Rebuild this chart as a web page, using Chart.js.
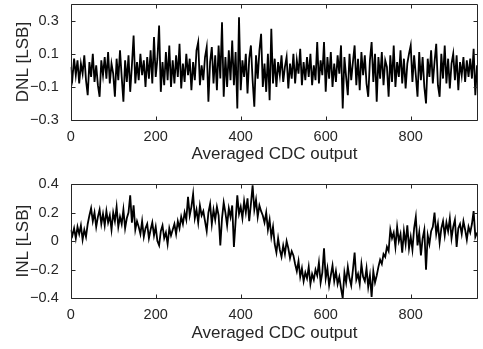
<!DOCTYPE html>
<html>
<head>
<meta charset="utf-8">
<script src="https://cdn.jsdelivr.net/npm/chart.js@4.4.1/dist/chart.umd.min.js"></script>
<style>
  html, body { margin: 0; padding: 0; background: #fff; overflow: hidden; }
  .box { position: absolute; left: 0; width: 483px; }
</style>
</head>
<body>
<div class="box" style="top:0;height:175px"><canvas id="dnlChart" width="483" height="175"></canvas></div>
<div class="box" style="top:168px;height:186px"><canvas id="inlChart" width="483" height="186"></canvas></div>
<script>
// one sample every 4 codes
const codeStep = 4;
const dnl = [
  0.02, -0.05, 0.07, -0.03, 0.06, -0.08, 0.04, -0.02, 0.09, -0.06, -0.15, 0.05, -0.04, 0.1, -0.07, 0.03, -0.09, -0.16, 0.06, -0.03,
  0.08, -0.05, 0.11, -0.08, 0.04, -0.02, -0.16, 0.07, -0.06, 0.12, -0.04, -0.19, 0.06, -0.07, 0.09, -0.13, 0.03, 0.21, -0.08, 0.05,
  -0.06, 0.1, -0.03, 0.06, -0.1, 0.08, -0.05, 0.12, -0.08, 0.2, -0.04, 0.07, 0.27, -0.13, 0.05, -0.09, 0.11, -0.06, 0.15, -0.1,
  0.06, -0.08, 0.09, -0.04, 0.16, -0.11, 0.04, -0.07, 0.1, -0.03, 0.07, -0.12, 0.05, -0.06, 0.12, 0.17, -0.09, 0.03, -0.06, 0.08,
  0.14, -0.19, 0.05, 0.14, -0.08, 0.09, -0.12, 0.15, -0.05, 0.29, -0.16, 0.08, -0.1, 0.12, -0.06, 0.18, -0.09, 0.11, -0.23, 0.32,
  -0.12, 0.06, -0.04, 0.1, -0.14, 0.07, 0.15, -0.06, -0.22, 0.09, -0.05, 0.12, 0.22, -0.1, 0.04, -0.13, 0.1, -0.18, 0.25, -0.08,
  0.07, -0.1, 0.05, -0.03, 0.09, -0.07, 0.02, 0.08, -0.11, 0.04, -0.05, 0.1, -0.08, 0.06, -0.02, 0.13, -0.09, 0.05, -0.06, 0.08,
  -0.04, 0.1, -0.09, 0.03, -0.06, 0.17, -0.08, 0.06, -0.03, 0.17, -0.13, 0.08, -0.05, 0.11, -0.1, 0.04, -0.07, 0.09, -0.02, 0.15,
  -0.23, 0.08, -0.04, -0.15, 0.1, -0.06, 0.05, 0.15, -0.09, 0.07, -0.12, 0.11, -0.03, 0.09, -0.08, -0.16, 0.06, 0.17, -0.07, 0.1,
  -0.19, 0.08, -0.05, 0.11, -0.09, 0.06, 0.02, -0.16, 0.09, -0.07, 0.15, -0.1, 0.05, -0.04, 0.12, -0.08, 0.07, -0.11, 0.04, 0.1,
  0.15, -0.07, 0.09, -0.03, -0.16, 0.11, -0.06, 0.08, -0.1, -0.2, 0.07, -0.04, 0.12, -0.08, 0.05, 0.16, -0.09, -0.16, 0.1, -0.05,
  0.15, -0.08, 0.07, -0.11, 0.04, 0.1, -0.06, 0.09, -0.12, 0.05, -0.03, 0.08, -0.07, 0.06, -0.04, 0.07, -0.05, 0.13, -0.15, 0.03
];
const inl = [
  0.08, 0.04, 0.09, 0.02, 0.1, 0.05, 0.11, 0.01, 0.08, 0.03, 0.12, 0.18, 0.23, 0.14, 0.2, 0.1, 0.17, 0.22, 0.12, 0.19,
  0.11, 0.21, 0.13, 0.18, 0.08, 0.2, 0.14, 0.24, 0.1, 0.17, 0.12, 0.22, 0.09, 0.16, 0.2, 0.32, 0.13, 0.25, 0.08, 0.14,
  0.1, 0.05, 0.14, 0.03, 0.09, 0.12, 0.02, 0.08, 0.13, 0.04, 0.1, 0.0, -0.03, 0.07, 0.11, 0.02, 0.06, -0.02, 0.09, 0.04,
  0.08, 0.12, 0.05, 0.14, 0.09, 0.17, 0.12, 0.2, 0.15, 0.31, 0.18, 0.24, 0.33, 0.16, 0.22, 0.13, 0.25, 0.18, 0.21, 0.14,
  0.07, 0.2, 0.26, 0.12, 0.22, 0.15, 0.24, 0.18, -0.03, 0.16, 0.27, 0.2, 0.11, 0.23, 0.17, 0.25, -0.04, 0.14, 0.32, 0.19,
  0.24, 0.16, 0.28, 0.2, 0.3, 0.14, 0.26, 0.39, 0.22, 0.29, 0.17, 0.25, 0.21, 0.18, 0.13, 0.2, 0.08, 0.15, 0.03, 0.1,
  -0.02, -0.08, 0.02, -0.06, -0.11, -0.03, -0.09, 0.0, -0.05, -0.12, -0.07, -0.1, -0.16, -0.21, -0.14, -0.25, -0.19, -0.28, -0.22, -0.26,
  -0.18, -0.3, -0.23, -0.27, -0.2, -0.24, -0.15, -0.29, -0.22, -0.05, -0.26, -0.19, -0.31, -0.24, -0.17, -0.28, -0.21, -0.3, -0.25, -0.33,
  -0.4, -0.22, -0.29, -0.18, -0.26, -0.31, -0.2, -0.08, -0.27, -0.23, -0.3, -0.16, -0.25, -0.28, -0.19, -0.32, -0.24, -0.39, -0.21, -0.29,
  -0.24, -0.18, -0.13, -0.16, -0.09, -0.11, -0.04, -0.07, 0.08, 0.02, 0.06, -0.04, 0.1, 0.0, 0.05, -0.08, 0.07, -0.02, 0.11, -0.05,
  0.03, -0.06, 0.09, 0.17, -0.03, 0.06, -0.1, 0.02, 0.08, -0.2, 0.04, -0.02, 0.07, 0.1, 0.2, 0.05, 0.12, -0.01, 0.09, 0.14,
  0.04, 0.13, 0.07, 0.16, 0.02, 0.1, 0.15, -0.04, 0.09, 0.12, 0.05, 0.14, 0.08, 0.01, 0.1, 0.06, 0.12, 0.21, 0.03, 0.06
];
const xTicks = [0, 200, 400, 600, 800];
const dnlTicks = [-0.3, -0.1, 0.1, 0.3];
const inlTicks = [-0.4, -0.2, 0, 0.2, 0.4];

const axisColor = '#262626';
const fontFamily = '"Liberation Sans", Arial, Helvetica, sans-serif';

// MATLAB-like box with inward ticks on all sides
const snap = v => Math.round(v) + 0.5;
const boxPlugin = {
  id: 'box',
  afterDraw(chart) {
    const { ctx, chartArea: a, scales } = chart;
    const l = snap(a.left), r = snap(a.right) - 1, t = snap(a.top), b = snap(a.bottom);
    ctx.save();
    ctx.strokeStyle = axisColor;
    ctx.lineWidth = 1;
    ctx.beginPath();
    ctx.rect(l, t, r - l, b - t);
    scales.x.ticks.forEach(tk => {
      const px = snap(scales.x.getPixelForValue(tk.value));
      ctx.moveTo(px, b); ctx.lineTo(px, b - 4);
      ctx.moveTo(px, t); ctx.lineTo(px, t + 4);
    });
    scales.y.ticks.forEach(tk => {
      const py = snap(scales.y.getPixelForValue(tk.value));
      ctx.moveTo(l, py); ctx.lineTo(l + 4, py);
      ctx.moveTo(r, py); ctx.lineTo(r - 4, py);
    });
    ctx.stroke();
    ctx.restore();
  }
};

const fmt = v => String(v).replace('-', '\u2212');

function makeChart(id, values, yTicks, yMin, yMax, yTitle, padTop, xHeight) {
  const points = values.map((v, i) => ({ x: i * codeStep, y: v }));
  return new Chart(document.getElementById(id), {
    type: 'line',
    data: {
      datasets: [{
        data: points,
        borderColor: '#000',
        borderWidth: 1.8,
        pointRadius: 0,
        tension: 0,
        fill: false
      }]
    },
    plugins: [boxPlugin],
    options: {
      responsive: false,
      animation: false,
      layout: { padding: { top: padTop, right: 4.7, left: 0, bottom: 0 } },
      plugins: { legend: { display: false }, tooltip: { enabled: false } },
      scales: {
        x: {
          type: 'linear',
          min: 0,
          max: 959,
          afterBuildTicks: s => { s.ticks = xTicks.map(v => ({ value: v })); },
          afterFit: s => { s.height = xHeight; s.paddingLeft = 0; s.paddingRight = 0; },
          grid: { display: false, drawTicks: false },
          border: { display: false },
          ticks: { color: axisColor, padding: 8, font: { family: fontFamily, size: 14.5 }, callback: fmt },
          title: { display: true, text: 'Averaged CDC output', color: axisColor, padding: { top: 0, bottom: 10 }, font: { family: fontFamily, size: 17 } }
        },
        y: {
          min: yMin,
          max: yMax,
          afterBuildTicks: s => { s.ticks = yTicks.map(v => ({ value: v })); },
          afterFit: s => { s.width = 70.7; s.paddingTop = 0; s.paddingBottom = 0; },
          grid: { display: false, drawTicks: false },
          border: { display: false },
          ticks: { color: axisColor, padding: 12, font: { family: fontFamily, size: 14.5 }, callback: fmt },
          title: { display: true, text: yTitle, color: axisColor, padding: { top: 13, bottom: 0 }, font: { family: fontFamily, size: 17 } }
        }
      }
    }
  });
}

makeChart('dnlChart', dnl, dnlTicks, -0.3, 0.4, 'DNL [LSB]', 4, 55);
makeChart('inlChart', inl, inlTicks, -0.4, 0.4, 'INL [LSB]', 16, 55.7);
</script>
</body>
</html>
